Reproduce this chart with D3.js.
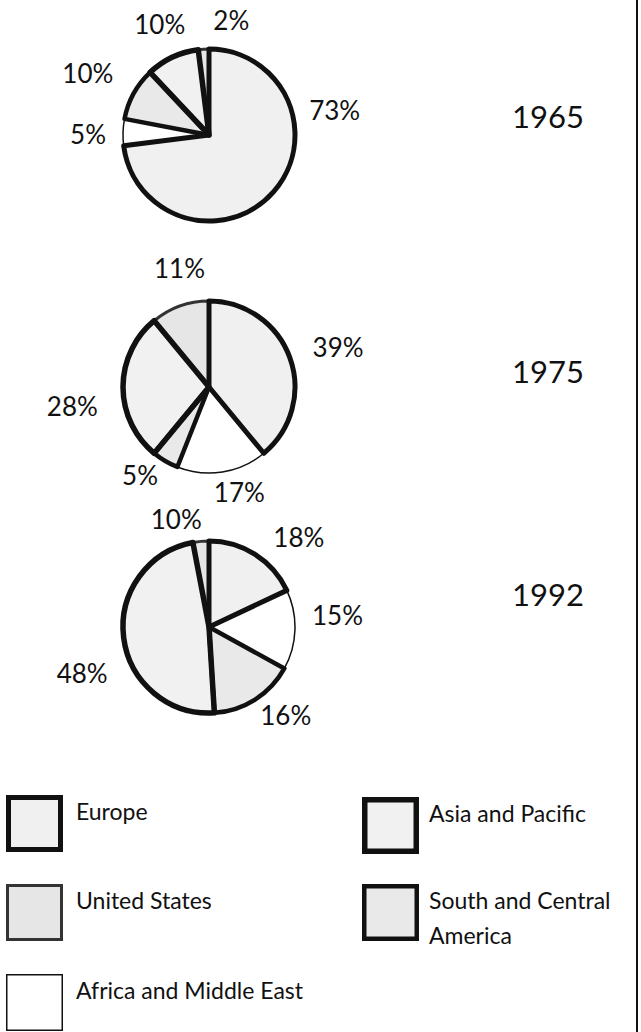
<!DOCTYPE html>
<html>
<head>
<meta charset="utf-8">
<script src="https://cdn.jsdelivr.net/npm/d3@7"></script>
<style>
  body { margin: 0; background: #fff; }
  text { font-family: Lato, "Open Sans", sans-serif; fill: #111; }
</style>
</head>
<body>
<svg id="chart" width="641" height="1032"></svg>
<script>
// regions, in the order the slices run clockwise from the top
var regions = ["Europe", "Africa and Middle East", "South and Central America", "Asia and Pacific", "United States"];
var years = ["1965", "1975", "1992"];

// slice sizes as drawn (per cent)
var share1965 = [73, 5, 10, 10, 2];
var share1975 = [39, 17, 5, 28, 11];
var share1992 = [18, 15, 16, 48, 3];   // the last slice is drawn much thinner than its printed label

// labels as printed next to the slices
var label1965 = ["73%", "5%", "10%", "10%", "2%"];
var label1975 = ["39%", "17%", "5%", "28%", "11%"];
var label1992 = ["18%", "15%", "16%", "48%", "10%"];

// legend entries, left column then right column
var legendLeft = ["Europe", "United States", "Africa and Middle East"];
var legendRight = ["Asia and Pacific", "South and Central\nAmerica"];

var shares = [share1965, share1975, share1992];
var labels = [label1965, label1975, label1992];

// look of each region: border weight and fill
var look = {
    "Europe":                   { stroke: "#111", width: 5,   fill: "#f0f0f0" },
    "United States":            { stroke: "#333", width: 3,   fill: "#e6e6e6" },
    "Africa and Middle East":   { stroke: "#111", width: 1.5, fill: "#ffffff" },
    "Asia and Pacific":         { stroke: "#111", width: 5.5, fill: "#f1f1f1" },
    "South and Central America":{ stroke: "#111", width: 4.5, fill: "#e9e9e9" }
};

var svg = d3.select("#chart");
var radius = 86;
var pieX = 209;
var pieY = [135, 387, 627];
var yearX = 548;
var yearY = [117, 372, 595];

// where each percent label sits: angle (deg, clockwise from top) and distance from centre
var labelSpots = [
    [[79, 128], [270, 121], [297, 136], [336, 121], [11, 117]],
    [[73, 135], [164, 110], [218, 112], [262, 138], [346, 122]],
    [[45, 127], [85, 129], [139, 117], [250, 135], [343, 112]]
];

var pie = d3.pie().sort(null).value(function(d){ return d.share; });
var arc = d3.arc().innerRadius(0).outerRadius(radius);

years.forEach(function(year, i){
    var rows = regions.map(function(r, j){
        return { region: r, share: shares[i][j], label: labels[i][j], spot: labelSpots[i][j] };
    });
    var arcs = pie(rows);

    var g = svg.append("g").attr("transform", "translate(" + pieX + "," + pieY[i] + ")");

    // fills first, then borders from thin to thick so the heavy ones stay on top
    g.selectAll("path.fill")
        .data(arcs)
        .enter()
        .append("path")
            .attr("class", "fill")
            .attr("d", arc)
            .attr("fill", function(d){ return look[d.data.region].fill; });

    var byWeight = arcs.slice().sort(function(a, b){
        return look[a.data.region].width - look[b.data.region].width;
    });

    g.selectAll("path.edge")
        .data(byWeight)
        .enter()
        .append("path")
            .attr("class", "edge")
            .attr("d", arc)
            .attr("fill", "none")
            .attr("stroke", function(d){ return look[d.data.region].stroke; })
            .attr("stroke-width", function(d){ return look[d.data.region].width; })
            .attr("stroke-linejoin", "round");

    g.selectAll("text.pct")
        .data(arcs)
        .enter()
        .append("text")
            .attr("class", "pct")
            .attr("transform", function(d){
                var p = d3.pointRadial(d.data.spot[0] * Math.PI / 180, d.data.spot[1]);
                return "translate(" + p[0] + "," + p[1] + ")";
            })
            .attr("text-anchor", "middle")
            .attr("dy", "0.36em")
            .style("font-size", "26px")
            .text(function(d){ return d.data.label; });

    svg.append("text")
        .attr("x", yearX)
        .attr("y", yearY[i])
        .attr("dy", "0.36em")
        .attr("text-anchor", "middle")
        .style("font-size", "31px")
        .text(year);
});

// legend
var lookFor = function(name){ return look[name.replace("\n", " ")]; };

function legendColumn(names, boxX, textX, rowsY){
    names.forEach(function(name, k){
        var st = lookFor(name);
        var w = st.width;
        svg.append("rect")
            .attr("x", boxX + w / 2)
            .attr("y", rowsY[k] + w / 2)
            .attr("width", 57 - w)
            .attr("height", 57 - w)
            .attr("fill", st.fill)
            .attr("stroke", st.stroke)
            .attr("stroke-width", w);

        var t = svg.append("text")
            .attr("x", textX)
            .attr("y", rowsY[k] + 25)
            .style("font-size", "23px");
        name.split("\n").forEach(function(line, n){
            t.append("tspan")
                .attr("x", textX)
                .attr("dy", n == 0 ? 0 : "1.5em")
                .text(line);
        });
    });
}

legendColumn(legendLeft, 6, 76, [795, 884, 974]);
legendColumn(legendRight, 362, 429, [797, 884]);

// frame line on the right edge
svg.append("line")
    .attr("x1", 637).attr("x2", 637)
    .attr("y1", 0).attr("y2", 1032)
    .attr("stroke", "#111")
    .attr("stroke-width", 2);
</script>
</body>
</html>
